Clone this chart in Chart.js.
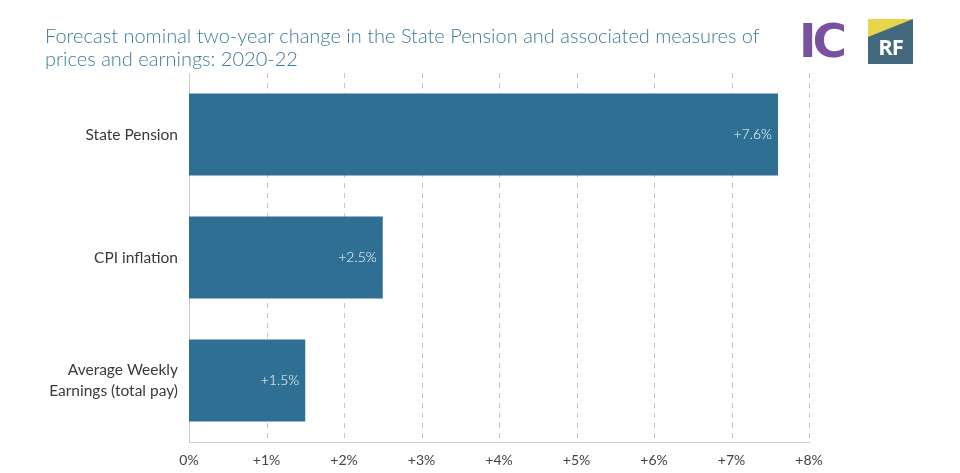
<!DOCTYPE html>
<html>
<head>
<meta charset="utf-8">
<script src="https://cdn.jsdelivr.net/npm/chart.js@4"></script>
<style>
  body { margin: 0; background: #fff; font-family: Lato, sans-serif; }
  #wrap { position: relative; width: 960px; height: 473px; }
  #title { position: absolute; left: 45px; top: 24px; font-size: 20px; line-height: 23px; color: #3f7c98; font-weight: 300; }
  #ic { position: absolute; left: 799px; top: 13px; font-family: "DejaVu Sans", sans-serif; font-weight: bold; font-size: 47px; color: #7a50a0; letter-spacing: -4px; }
  #rf { position: absolute; left: 868px; top: 19px; width: 45px; height: 45px; background: #42697e; overflow: hidden; }
  #rf .tri { position: absolute; left: 0; top: 0; width: 0; height: 0; border-top: 18px solid #e6d44b; border-right: 45px solid transparent; }
  #rf span { position: absolute; left: 0; right: 0; bottom: 3px; text-align: center; color: #fff; font-weight: bold; font-size: 22px; font-family: "Open Sans", sans-serif; letter-spacing: -1px; }
</style>
</head>
<body>
<div id="wrap">
  <canvas id="chart" width="960" height="473"></canvas>
  <div id="title">Forecast nominal two-year change in the State Pension and associated measures of<br>prices and earnings: 2020-22</div>
  <div id="ic">IC</div>
  <div id="rf"><div class="tri"></div><span>RF</span></div>
</div>
<script>
document.addEventListener("DOMContentLoaded", () => {
  const categories = ["State Pension", "CPI inflation", ["Average Weekly", "Earnings (total pay)"]];
  const changes = [7.6, 2.5, 1.5];
  const tickValues = [0, 1, 2, 3, 4, 5, 6, 7, 8];

  // white value labels at the end of each bar
  const barLabels = {
    id: "barLabels",
    afterDatasetsDraw(chart) {
      const ctx = chart.ctx;
      const meta = chart.getDatasetMeta(0);
      ctx.save();
      ctx.font = "300 14px Lato";
      ctx.fillStyle = "#ffffff";
      ctx.textAlign = "right";
      ctx.textBaseline = "middle";
      meta.data.forEach((bar, i) => {
        ctx.fillText("+" + changes[i].toFixed(1) + "%", bar.x - 6, bar.y);
      });
      ctx.restore();
    },
  };

  // dashed vertical grid lines, solid line at zero
  const dashGrid = {
    id: "dashGrid",
    beforeDatasetsDraw(chart) {
      const { ctx, chartArea, scales } = chart;
      ctx.save();
      ctx.lineWidth = 1;
      tickValues.forEach((v) => {
        const x = Math.round(scales.x.getPixelForValue(v)) + 0.5;
        ctx.beginPath();
        ctx.strokeStyle = v === 0 ? "#cccccc" : "#c6c6c6";
        ctx.setLineDash(v === 0 ? [] : [5, 5]);
        ctx.moveTo(x, chartArea.top);
        ctx.lineTo(x, chartArea.bottom);
        ctx.stroke();
      });
      ctx.restore();
    },
  };

  new Chart(document.getElementById("chart").getContext("2d"), {
    type: "bar",
    data: {
      labels: categories,
      datasets: [
        {
          data: changes,
          backgroundColor: "#2f6f94",
          barPercentage: 0.667,
          categoryPercentage: 1,
        },
      ],
    },
    options: {
      indexAxis: "y",
      responsive: false,
      animation: false,
      layout: { padding: { top: 73, right: 151, bottom: 0, left: 0 } },
      plugins: { legend: { display: false }, tooltip: { enabled: false } },
      scales: {
        x: {
          min: 0,
          max: 8,
          afterBuildTicks: (scale) => {
            scale.ticks = tickValues.map((v) => ({ value: v }));
          },
          afterFit: (scale) => {
            scale.height = 31;
          },
          grid: { display: false, drawTicks: false },
          border: { display: true, color: "#cccccc", width: 1 },
          ticks: {
            padding: 10,
            color: "#444",
            font: { family: "Lato", size: 14 },
            callback: (v) => (v === 0 ? "0%" : "+" + v + "%"),
          },
        },
        y: {
          afterFit: (scale) => {
            scale.width = 189;
          },
          grid: { display: false },
          border: { display: false },
          ticks: {
            padding: 3,
            color: "#3a3a3a",
            font: { family: "Lato", size: 15.5, lineHeight: 1.35 },
          },
        },
      },
    },
    plugins: [dashGrid, barLabels],
  });
});
</script>
</body>
</html>
